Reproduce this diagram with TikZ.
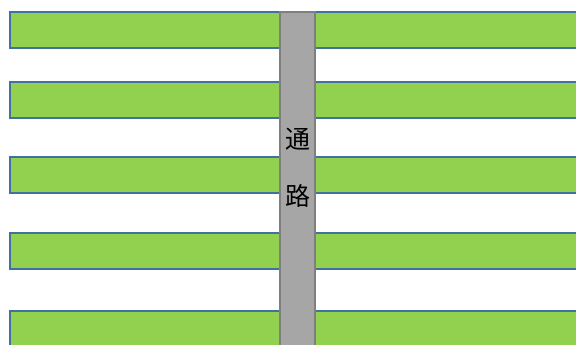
\documentclass[tikz,border=0pt]{standalone}
\usepackage{fontspec}
\newfontfamily\cjk{Noto Sans CJK JP}
\definecolor{bedgreen}{HTML}{92D050}
\definecolor{bedblue}{HTML}{41719C}
\definecolor{aislegray}{HTML}{A6A6A6}
\definecolor{aisleedge}{HTML}{7F7F7F}

\begin{document}
\begin{tikzpicture}[x=1pt, y=-1pt, line join=miter,
    bed/.style={fill=bedgreen, draw=bedblue, line width=2.5pt},
    aisle/.style={fill=aislegray, draw=aisleedge, line width=2.5pt}]

    % ── Page frame (pixel units, y down) ──────────────────────────────────────
    \useasboundingbox (0,0) rectangle (576,345);
    \clip (0,0) rectangle (576,345);

    % ── Beds, left and right of the aisle (top edges) ────────────────────────
    \foreach \t in {12, 82, 157, 233, 311} {
        \filldraw[bed] (10,\t) rectangle (280,\t+36);
        \filldraw[bed] (315,\t) rectangle (600,\t+36);
    }

    % ── Aisle (drawn last, over the beds) ────────────────────────────────────
    \filldraw[aisle] (280,12) rectangle (315,360);

    % Aisle label
    \node[font=\cjk\fontsize{25}{57}\selectfont, align=center, inner sep=0pt]
        (aislelabel) at (297.5,168) {通\\路};

\end{tikzpicture}
\end{document}
